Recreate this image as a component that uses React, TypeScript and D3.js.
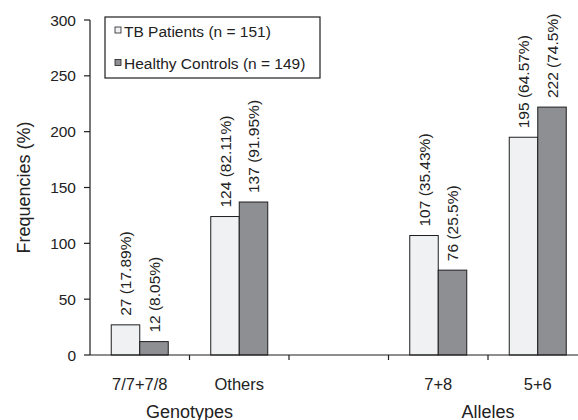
import React from "react";
import * as d3 from "d3";

const categories = ["7/7+7/8", "Others", "", "7+8", "5+6"];
const seriesNames = ["TB Patients (n = 151)", "Healthy Controls (n = 149)"];
const tbValues: (number | null)[] = [27, 124, null, 107, 195];
const hcValues: (number | null)[] = [12, 137, null, 76, 222];
const tbLabels = ["27 (17.89%)", "124 (82.11%)", "", "107 (35.43%)", "195 (64.57%)"];
const hcLabels = ["12 (8.05%)", "137 (91.95%)", "", "76 (25.5%)", "222 (74.5%)"];
const yTicks = [0, 50, 100, 150, 200, 250, 300];
const groupTitles = [
  { name: "Genotypes", from: 0, to: 1 },
  { name: "Alleles", from: 3, to: 4 },
];

const W = 578;
const H = 420;
const left = 90;
const right = 587.5;
const top = 20;
const bottom = 355;
const font = "'Liberation Sans', Arial, Helvetica, sans-serif";
const fills = ["#f0f1f3", "#8e8f93"];
const stroke = "#1e1e1e";

export default function App() {
  const x = d3.scaleBand<string>().domain(categories.map((c, i) => String(i))).range([left, right]);
  const y = d3.scaleLinear().domain([0, 300]).range([bottom, top]);
  const barW = 28.5;
  const series = [tbValues, hcValues];
  const labels = [tbLabels, hcLabels];

  return (
    <svg width={W} height={H} style={{ position: "absolute", left: 0, top: 0, background: "#fff" }} fontFamily={font}>
      {/* bars */}
      {series.map((vals, s) =>
        vals.map((v, i) => {
          if (v == null) return null;
          const cx = (x(String(i)) as number) + x.bandwidth() / 2;
          const bx = cx - barW + s * barW;
          return (
            <g key={`b${s}-${i}`}>
              <rect x={bx} y={y(v)} width={barW} height={y(0) - y(v)} fill={fills[s]} stroke={stroke} strokeWidth={1} />
              <text
                transform={`translate(${bx + barW / 2},${y(v) - 9}) rotate(-90)`}
                dy="0.36em"
                fontSize={15.5}
                fill="#222"
                textAnchor="start"
              >
                {labels[s][i]}
              </text>
            </g>
          );
        })
      )}
      {/* y axis */}
      <line x1={left} x2={left} y1={top} y2={bottom} stroke={stroke} strokeWidth={1.2} />
      {yTicks.map((t) => (
        <g key={`yt${t}`}>
          <line x1={left - 6} x2={left} y1={y(t)} y2={y(t)} stroke={stroke} strokeWidth={1.2} />
          <text x={left - 14} y={y(t)} dy="0.36em" textAnchor="end" fontSize={15.5} fill="#222">
            {t}
          </text>
        </g>
      ))}
      {/* x axis */}
      <line x1={left} x2={right} y1={bottom} y2={bottom} stroke={stroke} strokeWidth={1.2} />
      {categories.map((c, i) => {
        const x0 = x(String(i)) as number;
        return (
          <g key={`xt${i}`}>
            <line x1={x0 + x.bandwidth()} x2={x0 + x.bandwidth()} y1={bottom} y2={bottom + 5} stroke={stroke} strokeWidth={1.2} />
            <text x={x0 + x.bandwidth() / 2} y={389.5} textAnchor="middle" fontSize={16.5} fill="#222">
              {c}
            </text>
          </g>
        );
      })}
      {groupTitles.map((g) => {
        const cx = ((x(String(g.from)) as number) + (x(String(g.to)) as number) + x.bandwidth()) / 2;
        return (
          <text key={g.name} x={cx} y={417.5} textAnchor="middle" fontSize={18} fill="#222">
            {g.name}
          </text>
        );
      })}
      <text transform={`translate(30,${(top + bottom) / 2}) rotate(-90)`} textAnchor="middle" fontSize={18} fill="#222">
        Frequencies (%)
      </text>
      {/* legend */}
      <rect x={105} y={17} width={215} height={61} fill="#fff" stroke={stroke} strokeWidth={1.2} />
      {seriesNames.map((n, i) => (
        <g key={n}>
          <rect x={115} y={27 + i * 32.5} width={6} height={6} fill={fills[i]} stroke={stroke} strokeWidth={0.8} />
          <text x={124} y={31 + i * 32.5} dy="0.36em" fontSize={15.5} fill="#222">
            {n}
          </text>
        </g>
      ))}
    </svg>
  );
}
